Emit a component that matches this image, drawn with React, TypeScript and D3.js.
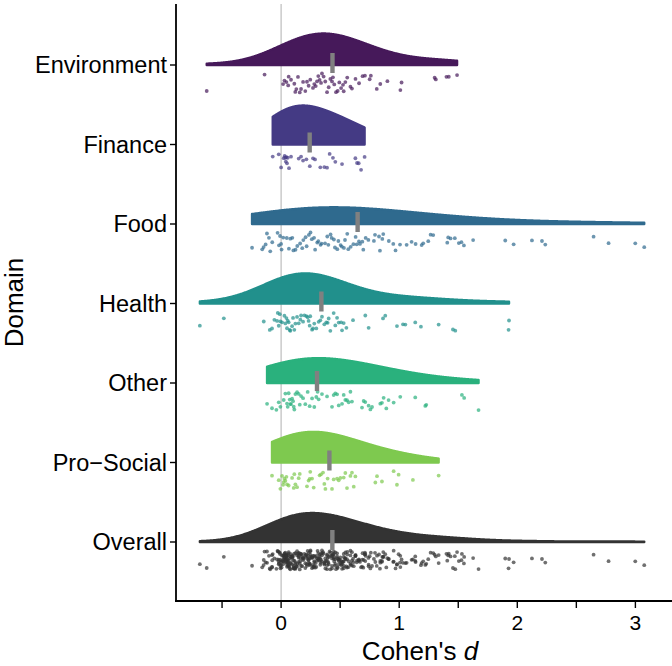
import React from "react";
import * as d3 from "d3";

const domains = ["Environment", "Finance", "Food", "Health", "Other", "Pro\u2212Social", "Overall"];
const colors = ["#46195a", "#443a84", "#2f6a8e", "#21908c", "#2ab17d", "#7ec94f", "#333333"];
const means = [0.435, 0.242, 0.648, 0.341, 0.304, 0.409, 0.434];

const environment = [-0.63, -0.14, 0.017, 0.028, 0.045, 0.06, 0.064, 0.084, 0.112, 0.12, 0.129, 0.143, 0.158, 0.169, 0.186, 0.205, 0.219, 0.233, 0.247, 0.27, 0.281, 0.293, 0.304, 0.315, 0.326, 0.338, 0.346, 0.36, 0.374, 0.389, 0.403, 0.417, 0.431, 0.439, 0.45, 0.465, 0.479, 0.493, 0.508, 0.524, 0.53, 0.544, 0.56, 0.587, 0.6, 0.63, 0.66, 0.69, 0.71, 0.75, 0.76, 0.81, 0.84, 0.9, 1.01, 1.02, 1.3, 1.31, 1.4, 1.42, 1.49];
const finance = [-0.071, -0.02, 0.0, 0.022, 0.03, 0.036, 0.04, 0.045, 0.05, 0.056, 0.067, 0.084, 0.149, 0.169, 0.186, 0.214, 0.243, 0.27, 0.287, 0.332, 0.366, 0.389, 0.411, 0.439, 0.459, 0.516, 0.629, 0.643, 0.657, 0.677, 0.707];
const food = [-0.246, -0.16, -0.148, -0.131, -0.12, -0.103, -0.092, -0.075, -0.03, -0.018, -0.009, 0.0, 0.004, 0.018, 0.048, 0.066, 0.078, 0.095, 0.104, 0.122, 0.137, 0.161, 0.179, 0.188, 0.207, 0.216, 0.235, 0.249, 0.26, 0.279, 0.288, 0.306, 0.315, 0.334, 0.343, 0.372, 0.391, 0.4, 0.419, 0.428, 0.447, 0.456, 0.476, 0.485, 0.504, 0.514, 0.532, 0.541, 0.56, 0.569, 0.589, 0.612, 0.631, 0.64, 0.659, 0.668, 0.688, 0.696, 0.716, 0.739, 0.786, 0.795, 0.829, 0.837, 0.857, 0.865, 0.912, 0.95, 0.969, 1.007, 1.063, 1.105, 1.139, 1.19, 1.203, 1.246, 1.266, 1.288, 1.407, 1.415, 1.435, 1.471, 1.505, 1.527, 1.548, 1.626, 1.898, 1.969, 2.124, 2.209, 2.237, 2.646, 2.773, 2.999, 3.075];
const health = [-0.688, -0.485, -0.147, -0.096, -0.077, -0.057, -0.034, -0.028, -0.02, -0.011, -0.006, 0.008, 0.028, 0.036, 0.045, 0.05, 0.056, 0.064, 0.073, 0.078, 0.093, 0.101, 0.112, 0.121, 0.135, 0.149, 0.163, 0.169, 0.186, 0.197, 0.214, 0.225, 0.233, 0.242, 0.247, 0.262, 0.27, 0.281, 0.298, 0.318, 0.332, 0.346, 0.366, 0.383, 0.394, 0.403, 0.417, 0.445, 0.459, 0.474, 0.488, 0.508, 0.516, 0.53, 0.553, 0.609, 0.713, 0.741, 0.863, 0.882, 0.981, 1.032, 1.052, 1.136, 1.184, 1.334, 1.455, 1.475, 1.926, 1.93];
const other = [-0.119, -0.077, -0.04, -0.02, -0.006, 0.022, 0.036, 0.05, 0.056, 0.064, 0.073, 0.078, 0.084, 0.093, 0.101, 0.107, 0.112, 0.121, 0.135, 0.149, 0.158, 0.169, 0.186, 0.205, 0.225, 0.242, 0.262, 0.281, 0.298, 0.309, 0.318, 0.346, 0.389, 0.431, 0.445, 0.459, 0.474, 0.488, 0.516, 0.53, 0.544, 0.558, 0.572, 0.587, 0.6, 0.685, 0.699, 0.713, 0.741, 0.756, 0.77, 0.84, 0.854, 0.868, 0.891, 0.91, 0.953, 1.009, 1.136, 1.221, 1.229, 1.531, 1.55, 1.672];
const proSocial = [-0.077, -0.02, -0.006, 0.008, 0.017, 0.022, 0.028, 0.036, 0.045, 0.05, 0.064, 0.093, 0.107, 0.112, 0.121, 0.135, 0.149, 0.158, 0.219, 0.233, 0.242, 0.247, 0.262, 0.276, 0.326, 0.338, 0.355, 0.366, 0.375, 0.394, 0.431, 0.445, 0.474, 0.488, 0.502, 0.53, 0.544, 0.558, 0.587, 0.6, 0.615, 0.629, 0.798, 0.812, 0.854, 0.953, 0.981, 0.995, 1.116, 1.334];

const xTicks = [-0.5, 0, 0.5, 1, 1.5, 2, 2.5, 3];
const xTickLabels = ["", "0", "", "1", "", "2", "", "3"];

const FONT = "'Liberation Sans', Arial, Helvetica, sans-serif";
const BW_ADJUST = 2.2;

function jitter(i: number) {
  const t = Math.sin((i + 1) * 12.9898) * 43758.5453;
  return (t - Math.floor(t)) * 2 - 1;
}

function bwNrd0(v: number[]) {
  const s = [...v].sort((a, b) => a - b);
  const sd = d3.deviation(s) as number;
  const iqr = (d3.quantile(s, 0.75) as number) - (d3.quantile(s, 0.25) as number);
  const lo = Math.min(sd, iqr / 1.34);
  return 0.9 * lo * Math.pow(s.length, -0.2);
}

function kde(v: number[]): [number, number][] {
  const bw = bwNrd0(v) * BW_ADJUST;
  const [mn, mx] = d3.extent(v) as [number, number];
  const n = 512;
  const out: [number, number][] = [];
  for (let k = 0; k < n; k++) {
    const t = mn + ((mx - mn) * k) / (n - 1);
    let s = 0;
    for (const xi of v) {
      const u = (t - xi) / bw;
      s += Math.exp(-0.5 * u * u);
    }
    out.push([t, s / (v.length * bw * Math.sqrt(2 * Math.PI))]);
  }
  return out;
}

export default function App() {
  const W = 672, H = 666;
  const x = d3.scaleLinear().domain([-0.89, 3.31]).range([176, 672]);
  const y = d3.scalePoint<string>().domain(domains).range([65, 542]);
  const plotTop = 4, plotBottom = 601, plotLeft = 176;

  const groups = [environment, finance, food, health, other, proSocial];
  const pts: { g: number; v: number; j: number }[] = [];
  groups.forEach((arr, g) => arr.forEach((v, i) => pts.push({ g, v, j: jitter(g * 1000 + i) })));
  const series = domains.map((_, gi) => (gi < 6 ? pts.filter((p) => p.g === gi) : pts));
  const dens = series.map((s) => kde(s.map((p) => p.v)));
  const maxD = d3.max(dens.flatMap((d) => d.map((p) => p[1]))) as number;
  const halfH = y.step() * 0.49;

  return (
    <svg width={W} height={H} style={{ position: "absolute", left: 0, top: 0, background: "#fff" }} fontFamily={FONT}>
      <rect x={0} y={0} width={W} height={H} fill="#fff" />
      <line x1={x(0)} x2={x(0)} y1={plotTop} y2={plotBottom} stroke="#bdbdbd" strokeWidth={1.2} />
      {domains.map((d, gi) => {
        const base = y(d) as number;
        const area = d3
          .area<[number, number]>()
          .x((p) => x(p[0]))
          .y0(base)
          .y1((p) => base - (p[1] / maxD) * halfH);
        return (
          <g key={d}>
            <path d={area(dens[gi]) as string} fill={colors[gi]} stroke={colors[gi]} strokeWidth={2.4} strokeLinejoin="round" />
            {series[gi].map((p, i) => (
              <circle key={i} cx={x(p.v)} cy={base + 18 + p.j * 9.5} r={1.9} fill={colors[gi]} fillOpacity={0.7} />
            ))}
            <rect x={x(means[gi]) - 2.2} y={base - 12} width={4.4} height={20} fill="#808080" />
          </g>
        );
      })}
      <line x1={plotLeft} x2={plotLeft} y1={plotTop} y2={plotBottom + 1} stroke="#000" strokeWidth={1.8} />
      <line x1={plotLeft - 1} x2={W} y1={plotBottom} y2={plotBottom} stroke="#000" strokeWidth={1.8} />
      {domains.map((d) => (
        <g key={d}>
          <line x1={plotLeft - 6} x2={plotLeft} y1={y(d)} y2={y(d)} stroke="#000" strokeWidth={1.4} />
          <text x={plotLeft - 9} y={(y(d) as number) + 8} textAnchor="end" fontSize={23.5} fill="#000">{d}</text>
        </g>
      ))}
      {xTicks.map((t, i) => (
        <g key={t}>
          <line x1={x(t)} x2={x(t)} y1={plotBottom} y2={plotBottom + 7} stroke="#000" strokeWidth={1.4} />
          {xTickLabels[i] && (
            <text x={x(t)} y={630} textAnchor="middle" fontSize={21} fill="#000">{xTickLabels[i]}</text>
          )}
        </g>
      ))}
      <text x={(plotLeft + W) / 2 - 4} y={660} textAnchor="middle" fontSize={26} fill="#000">
        Cohen's <tspan fontStyle="italic">d</tspan>
      </text>
      <text transform={`translate(23, ${(plotTop + plotBottom) / 2}) rotate(-90)`} textAnchor="middle" fontSize={26} fill="#000">
        Domain
      </text>
    </svg>
  );
}
